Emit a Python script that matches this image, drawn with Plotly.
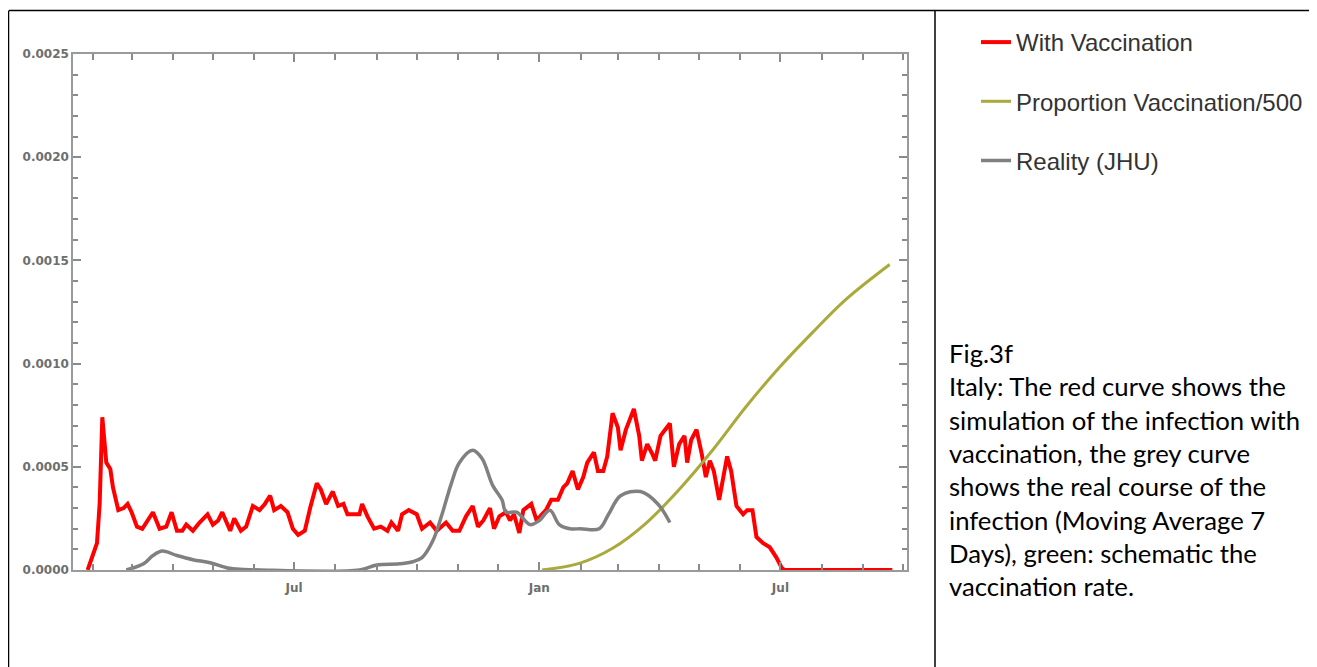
import plotly.graph_objects as go

# simulated infections with vaccination (Italy)
red_dates = [
    "2020-01-28", "2020-02-04", "2020-02-06", "2020-02-08", "2020-02-11", "2020-02-14", "2020-02-16", "2020-02-20", "2020-02-24", "2020-02-27",
    "2020-03-01", "2020-03-05", "2020-03-09", "2020-03-12", "2020-03-17", "2020-03-22", "2020-03-27", "2020-03-31", "2020-04-04", "2020-04-08",
    "2020-04-11", "2020-04-16", "2020-04-21", "2020-04-27", "2020-05-01", "2020-05-05", "2020-05-08", "2020-05-14", "2020-05-17", "2020-05-22",
    "2020-05-26", "2020-05-31", "2020-06-05", "2020-06-09", "2020-06-13", "2020-06-16", "2020-06-21", "2020-06-26", "2020-06-30", "2020-07-04",
    "2020-07-09", "2020-07-13", "2020-07-18", "2020-07-21", "2020-07-25", "2020-07-30", "2020-08-03", "2020-08-07", "2020-08-10", "2020-08-15",
    "2020-08-19", "2020-08-21", "2020-08-25", "2020-08-30", "2020-09-04", "2020-09-09", "2020-09-12", "2020-09-17", "2020-09-20", "2020-09-25",
    "2020-10-01", "2020-10-05", "2020-10-11", "2020-10-16", "2020-10-23", "2020-10-28", "2020-11-02", "2020-11-07", "2020-11-12", "2020-11-16",
    "2020-11-20", "2020-11-25", "2020-11-28", "2020-12-02", "2020-12-07", "2020-12-10", "2020-12-13", "2020-12-17", "2020-12-20", "2020-12-26",
    "2020-12-30", "2021-01-03", "2021-01-06", "2021-01-10", "2021-01-15", "2021-01-19", "2021-01-22", "2021-01-26", "2021-01-30", "2021-02-03",
    "2021-02-06", "2021-02-11", "2021-02-14", "2021-02-18", "2021-02-21", "2021-02-25", "2021-03-01", "2021-03-03", "2021-03-07", "2021-03-13",
    "2021-03-17", "2021-03-19", "2021-03-23", "2021-03-27", "2021-03-29", "2021-04-02", "2021-04-09", "2021-04-12", "2021-04-16", "2021-04-20",
    "2021-04-22", "2021-04-25", "2021-04-29", "2021-05-03", "2021-05-06", "2021-05-09", "2021-05-12", "2021-05-16", "2021-05-20", "2021-05-22",
    "2021-05-25", "2021-05-29", "2021-06-03", "2021-06-06", "2021-06-10", "2021-06-13", "2021-06-18", "2021-06-23", "2021-06-28", "2021-07-02",
    "2021-07-04", "2021-09-23",
]
red_vals = [
    0, 0.00013, 0.00032, 0.00074, 0.00052, 0.00049, 0.00040, 0.00029, 0.00030, 0.00032,
    0.00028, 0.00021, 0.00020, 0.00023, 0.00028, 0.00020, 0.00021, 0.00028, 0.00019, 0.00019,
    0.00022, 0.00019, 0.00023, 0.00027, 0.00022, 0.00024, 0.00028, 0.00019, 0.00025, 0.00019,
    0.00021, 0.00031, 0.00029, 0.00032, 0.00036, 0.00029, 0.00031, 0.00028, 0.00020, 0.00017,
    0.00019, 0.00030, 0.00042, 0.00039, 0.00032, 0.00038, 0.00031, 0.00032, 0.00027, 0.00027,
    0.00027, 0.00032, 0.00026, 0.00020, 0.00021, 0.00019, 0.00023, 0.00019, 0.00027, 0.00029,
    0.00027, 0.00020, 0.00023, 0.00019, 0.00023, 0.00019, 0.00019, 0.00026, 0.00031, 0.00021,
    0.00024, 0.00030, 0.00020, 0.00026, 0.00028, 0.00024, 0.00027, 0.00018, 0.00029, 0.00032,
    0.00024, 0.00027, 0.00029, 0.00034, 0.00034, 0.00040, 0.00042, 0.00048, 0.00039, 0.00045,
    0.00052, 0.00057, 0.00048, 0.00048, 0.00055, 0.00076, 0.00069, 0.00058, 0.00068, 0.00078,
    0.00065, 0.00053, 0.00061, 0.00056, 0.00053, 0.00065, 0.00071, 0.00050, 0.00061, 0.00065,
    0.00052, 0.00063, 0.00068, 0.00056, 0.00045, 0.00053, 0.00048, 0.00034, 0.00050, 0.00055,
    0.00048, 0.00031, 0.00027, 0.00029, 0.00029, 0.00016, 0.00013, 0.00011, 0.00006, 0.00001,
    0, 0,
]

# vaccinated proportion / 500
green_dates = ["2021-01-03", "2021-01-31", "2021-02-25", "2021-03-22", "2021-04-16", "2021-05-11",
               "2021-06-05", "2021-06-30", "2021-07-25", "2021-08-19", "2021-09-21"]
green_vals = [0, 0.000032, 0.000105, 0.000226, 0.00039, 0.00058, 0.00079, 0.00098, 0.00115, 0.00131, 0.00148]

# reality, JHU 7 day moving average
grey_dates = [
    "2020-02-26", "2020-03-10", "2020-03-17", "2020-03-24", "2020-04-04", "2020-04-16", "2020-04-29", "2020-05-12",
    "2020-05-24", "2020-06-05", "2020-08-19", "2020-09-01", "2020-09-18", "2020-09-28", "2020-10-05", "2020-10-13",
    "2020-10-20", "2020-10-27", "2020-11-02", "2020-11-12", "2020-11-19", "2020-11-27", "2020-12-04", "2020-12-07",
    "2020-12-15", "2020-12-25", "2021-01-01", "2021-01-09", "2021-01-16", "2021-01-24", "2021-02-01", "2021-02-15",
    "2021-02-22", "2021-03-03", "2021-03-18", "2021-03-31", "2021-04-09",
]
grey_vals = [
    0, 0.00003, 0.00007, 0.000092, 0.00007, 0.00005, 0.000035, 0.00001,
    0.000003, 0, 0, 0.000024, 0.00003, 0.00004, 0.00006, 0.00014,
    0.00027, 0.00042, 0.00052, 0.00058, 0.00054, 0.00041, 0.00034, 0.00028,
    0.00028, 0.00022, 0.00024, 0.00029, 0.00022, 0.00020, 0.00020, 0.00020,
    0.00027, 0.00036, 0.00038, 0.00032, 0.00023,
]

caption_lines = [
    "Fig.3f",
    "Italy: The red curve shows the",
    "simulation of the infection with",
    "vaccination, the grey curve",
    "shows the real course of the",
    "infection (Moving Average 7",
    "Days), green: schematic the",
    "vaccination rate.",
]

# the page adds an 8px body margin, so the figure is shifted by OFF
OFF = 8
FW, FH = 1317 - OFF, 667 - OFF
# plot area in screen pixels
L, T, W, H = 73, 54, 834, 516


def px(x):
    return (x - L) / W


def py(y):
    return (T + H - y) / H


fig = go.Figure()
fig.add_trace(go.Scatter(x=red_dates, y=red_vals, mode="lines", name="With Vaccination",
                         legendgroup="a", line=dict(color="#ff0000", width=4)))
fig.add_trace(go.Scatter(x=green_dates, y=green_vals, mode="lines", name="Proportion Vaccination/500",
                         legendgroup="b", line=dict(color="#a9a93c", width=3, shape="spline")))
fig.add_trace(go.Scatter(x=grey_dates, y=grey_vals, mode="lines", name="Reality (JHU)",
                         legendgroup="c", line=dict(color="#808080", width=3.5, shape="spline")))

tickfont = dict(family="DejaVu Sans", size=12, color="#6e6e6e", weight="bold")
axis_common = dict(
    showline=True, linecolor="#9a9a9a", linewidth=1.5, mirror="allticks",
    ticks="inside", ticklen=8, tickcolor="#8a8a8a", tickwidth=1.5,
    showgrid=False, zeroline=False, tickfont=tickfont,
)
fig.update_xaxes(type="date", range=["2020-01-17", "2021-10-04"], tick0="2020-01-01",
                 dtick="M6", tickformat="%b", ticklabelstandoff=6,
                 minor=dict(dtick="M1", ticks="inside", ticklen=6, tickcolor="#8a8a8a", showgrid=False),
                 **axis_common)
fig.update_yaxes(range=[0, 0.0025], dtick=0.0005, tickformat=".4f",
                 minor=dict(dtick=0.0001, ticks="inside", ticklen=5, tickcolor="#8a8a8a", showgrid=False),
                 **axis_common)

# table borders
border = dict(color="black", width=1.5)
shapes = [
    dict(type="line", xref="paper", yref="paper", x0=px(9), x1=px(1330), y0=py(10.5), y1=py(10.5), line=border),
    dict(type="line", xref="paper", yref="paper", x0=px(8.5), x1=px(8.5), y0=py(10.5), y1=py(690), line=border),
    dict(type="line", xref="paper", yref="paper", x0=px(935), x1=px(935), y0=py(10.5), y1=py(690), line=border),
]

annotations = []
for i, line in enumerate(caption_lines):
    annotations.append(dict(
        text=line, xref="paper", yref="paper", x=px(947), y=py(353 + 33.3 * i),
        xanchor="left", yanchor="middle", showarrow=False, align="left",
        font=dict(family="Lato", size=25.7, color="black"),
    ))

fig.update_layout(
    width=FW, height=FH,
    margin=dict(l=L - OFF, r=FW - (L - OFF) - W, t=T - OFF, b=FH - (T - OFF) - H, autoexpand=False),
    paper_bgcolor="white", plot_bgcolor="white",
    showlegend=True,
    legend=dict(x=px(976), y=py(20), xanchor="left", yanchor="top",
                traceorder="grouped", tracegroupgap=25, bgcolor="rgba(0,0,0,0)",
                font=dict(family="Liberation Sans", size=24, color="#333333")),
    shapes=shapes,
    annotations=annotations,
)

fig.write_html("out.html")
